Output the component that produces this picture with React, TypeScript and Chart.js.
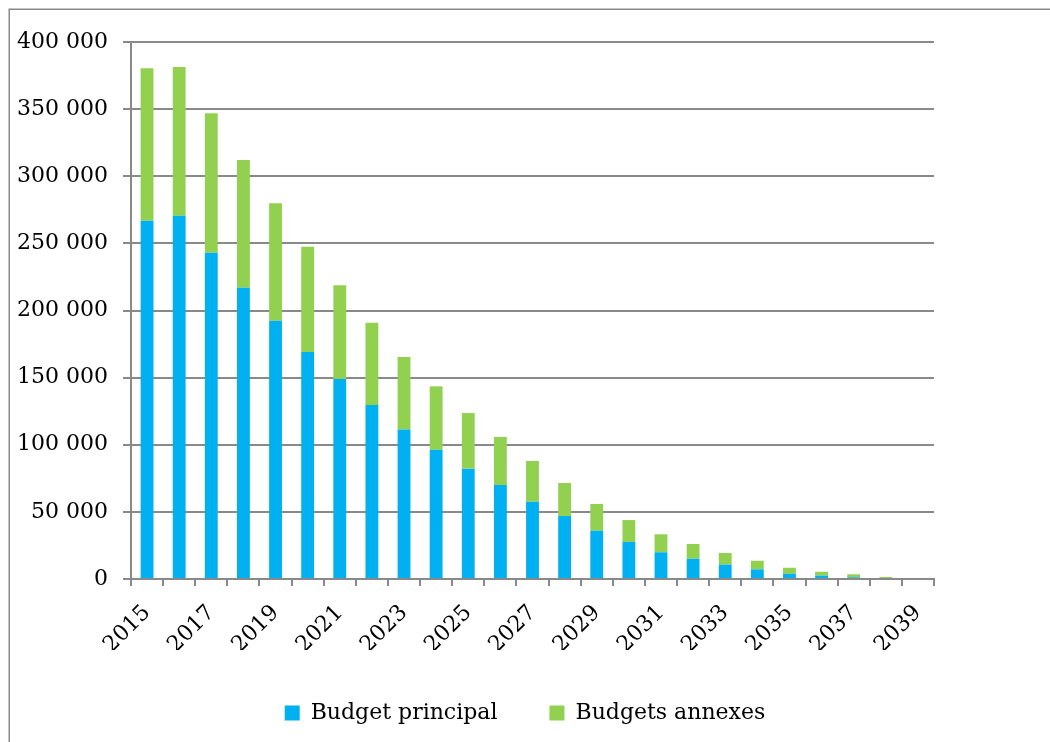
import React, { useEffect, useRef } from "react";
import { Chart, registerables } from "chart.js";

Chart.register(...registerables);

const years: string[] = [
  "2015", "2016", "2017", "2018", "2019", "2020", "2021", "2022", "2023", "2024",
  "2025", "2026", "2027", "2028", "2029", "2030", "2031", "2032", "2033", "2034",
  "2035", "2036", "2037", "2038", "2039",
];

const budgetPrincipal: number[] = [
  266900, 270600, 243100, 217000, 192400, 169100, 149000, 129600, 111300, 96300,
  82200, 70000, 57600, 46900, 36000, 27600, 19900, 15100, 10700, 7200,
  3900, 2500, 1300, 0, 0,
];

const budgetsAnnexes: number[] = [
  113500, 110800, 103800, 95100, 87400, 78400, 69800, 61300, 54100, 47200,
  41400, 35800, 30300, 24600, 19900, 16300, 13400, 11000, 8700, 6400,
  4500, 2900, 2200, 1500, 0,
];

const seriesNames: string[] = ["Budget principal", "Budgets annexes"];
const seriesColors: string[] = ["#00B0F0", "#92D050"];

const yMin = 0;
const yMax = 400000;
const yStep = 50000;

const FONT = "'DejaVu Serif'";
const GRID = "#898989";

function formatThousands(v: number): string {
  return String(Math.round(v)).replace(/\B(?=(\d{3})+(?!\d))/g, " ");
}

const framePlugin = {
  id: "frame",
  beforeDraw(chart: any) {
    const ctx = chart.ctx;
    ctx.save();
    ctx.strokeStyle = GRID;
    ctx.lineWidth = 1.5;
    ctx.beginPath();
    ctx.moveTo(9.25, chart.height);
    ctx.lineTo(9.25, 9.25);
    ctx.lineTo(chart.width, 9.25);
    ctx.stroke();
    ctx.restore();
  },
};

export default function App() {
  const ref = useRef<HTMLCanvasElement | null>(null);

  useEffect(() => {
    if (!ref.current) return;
    const chart = new Chart(ref.current, {
      type: "bar",
      data: {
        labels: years,
        datasets: [
          {
            label: seriesNames[0],
            data: budgetPrincipal,
            backgroundColor: seriesColors[0],
            borderWidth: 0,
            categoryPercentage: 0.4,
            barPercentage: 1,
          },
          {
            label: seriesNames[1],
            data: budgetsAnnexes,
            backgroundColor: seriesColors[1],
            borderWidth: 0,
            categoryPercentage: 0.4,
            barPercentage: 1,
          },
        ],
      },
      options: {
        responsive: false,
        animation: false,
        devicePixelRatio: 1,
        layout: { padding: { top: 42, left: 0, right: 0, bottom: 8 } },
        plugins: {
          tooltip: { enabled: false },
          legend: {
            position: "bottom",
            labels: {
              font: { family: FONT, size: 22 },
              color: "#000",
              boxWidth: 15,
              boxHeight: 15,
              padding: 52,
            },
          },
        },
        scales: {
          x: {
            stacked: true,
            offset: true,
            grid: {
              display: true,
              drawOnChartArea: false,
              drawTicks: true,
              tickLength: 7,
              offset: true,
              color: GRID,
              lineWidth: 2,
            },
            border: { display: true, color: GRID, width: 2 },
            ticks: {
              autoSkip: false,
              maxRotation: 45,
              minRotation: 45,
              padding: 14,
              color: "#000",
              font: { family: FONT, size: 22 },
              callback: (_v: any, i: number) => (i % 2 === 0 ? years[i] : ""),
            },
            afterFit: (s: any) => {
              s.height = 71;
            },
          },
          y: {
            stacked: true,
            min: yMin,
            max: yMax,
            grid: {
              color: GRID,
              lineWidth: 2,
              drawTicks: true,
              tickLength: 8,
            },
            border: { display: true, color: GRID, width: 2 },
            ticks: {
              stepSize: yStep,
              padding: 15,
              color: "#000",
              font: { family: FONT, size: 22 },
              callback: (v: any) => formatThousands(Number(v)),
            },
            afterFit: (s: any) => {
              s.width = 131;
            },
          },
          yRight: {
            type: "linear",
            position: "right",
            display: true,
            grid: { display: false, drawTicks: false },
            border: { display: false },
            ticks: { display: false },
            afterFit: (s: any) => {
              s.width = 116;
            },
          },
        },
      },
      plugins: [framePlugin],
    } as any);
    return () => chart.destroy();
  }, []);

  return (
    <div style={{ position: "absolute", left: 0, top: 0, width: 1050, height: 742, background: "#fff" }}>
      <canvas ref={ref} width={1050} height={742} style={{ display: "block" }} />
    </div>
  );
}
